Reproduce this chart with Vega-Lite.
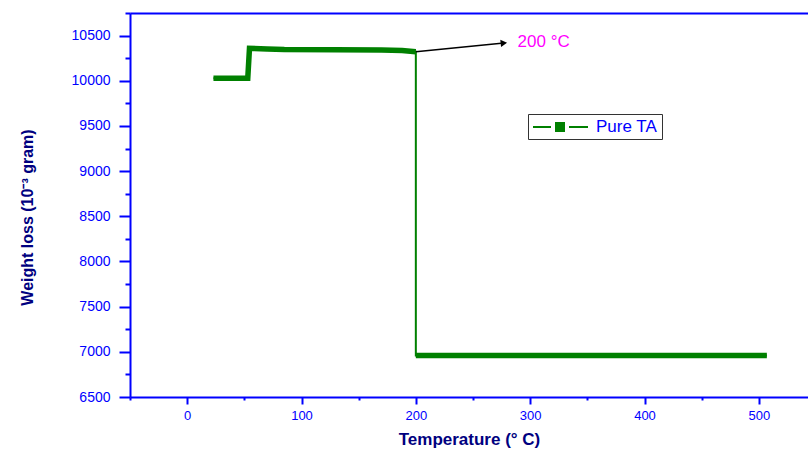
{
  "$schema": "https://vega.github.io/schema/vega-lite/v6.json",
  "width": 678,
  "height": 384,
  "autosize": "none",
  "padding": {"left": 130, "top": 13, "right": 0, "bottom": 56},
  "background": "white",
  "config": {
    "view": {"stroke": null},
    "font": "Liberation Sans",
    "axis": {
      "grid": false,
      "domainColor": "#0000ff",
      "domainWidth": 2,
      "tickColor": "#0000ff",
      "tickWidth": 2,
      "labelColor": "#0000ff",
      "labelFont": "Liberation Sans",
      "titleFont": "Liberation Sans"
    }
  },
  "datasets": {
    "tga": [
      {"i": 1, "T": 23, "W": 10027, "phase": "before", "series": "Pure TA"},
      {"i": 2, "T": 53, "W": 10027, "phase": "before", "series": "Pure TA"},
      {"i": 3, "T": 54.5, "W": 10360, "phase": "before", "series": "Pure TA"},
      {"i": 4, "T": 70, "W": 10352, "phase": "before", "series": "Pure TA"},
      {"i": 5, "T": 85, "W": 10345, "phase": "before", "series": "Pure TA"},
      {"i": 6, "T": 130, "W": 10342, "phase": "before", "series": "Pure TA"},
      {"i": 7, "T": 170, "W": 10340, "phase": "before", "series": "Pure TA"},
      {"i": 8, "T": 188, "W": 10335, "phase": "before", "series": "Pure TA"},
      {"i": 9, "T": 200, "W": 10322, "phase": "before", "series": "Pure TA"},
      {"i": 10, "T": 200, "W": 6960, "phase": "after", "series": "Pure TA"},
      {"i": 11, "T": 300, "W": 6960, "phase": "after", "series": "Pure TA"},
      {"i": 12, "T": 400, "W": 6960, "phase": "after", "series": "Pure TA"},
      {"i": 13, "T": 507, "W": 6960, "phase": "after", "series": "Pure TA"}
    ],
    "note": [
      {"ax1": 200, "ay1": 10322, "ax2": 277, "ay2": 10417, "tx": 289, "ty": 10430, "label": "200 °C"}
    ]
  },
  "layer": [
    {
      "data": {"name": "tga"},
      "mark": {"type": "line", "color": "#008000", "strokeWidth": 2},
      "encoding": {
        "x": {
          "field": "T", "type": "quantitative",
          "scale": {"domain": [-50, 543], "nice": false, "zero": false},
          "axis": {
            "orient": "bottom",
            "values": [0, 100, 200, 300, 400, 500],
            "tickSize": 7,
            "labelPadding": 5,
            "labelFontSize": 13,
            "title": "Temperature (° C)",
            "titleFontSize": 17,
            "titleFontWeight": "bold",
            "titleColor": "#000080",
            "titlePadding": 9
          }
        },
        "y": {
          "field": "W", "type": "quantitative",
          "scale": {"domain": [6500, 10750], "nice": false, "zero": false},
          "axis": {
            "orient": "left",
            "values": [6500, 7000, 7500, 8000, 8500, 9000, 9500, 10000, 10500],
            "format": "d",
            "tickSize": 11,
            "labelPadding": 9,
            "labelFontSize": 14,
            "title": "Weight loss (10⁻³ gram)",
            "titleFontSize": 16,
            "titleFontWeight": "bold",
            "titleColor": "#000080",
            "titleAngle": -90,
            "titleX": -103,
            "titleY": 204,
            "titleAlign": "center",
            "titleBaseline": "middle"
          }
        },
        "order": {"field": "i", "type": "quantitative"}
      }
    },
    {
      "data": {"name": "tga"},
      "mark": {"type": "line", "strokeWidth": 5.5, "strokeJoin": "miter"},
      "encoding": {
        "x": {
          "field": "T", "type": "quantitative",
          "axis": {
            "orient": "bottom",
            "values": [-50, 50, 150, 250, 350, 450],
            "tickSize": 3,
            "labels": false,
            "domain": false,
            "title": null
          }
        },
        "y": {
          "field": "W", "type": "quantitative",
          "axis": {
            "orient": "left",
            "values": [6750, 7250, 7750, 8250, 8750, 9250, 9750, 10250, 10750],
            "tickSize": 5,
            "labels": false,
            "domain": false,
            "title": null
          }
        },
        "detail": {"field": "phase"},
        "order": {"field": "i", "type": "quantitative"},
        "color": {
          "field": "series", "type": "nominal",
          "scale": {"domain": ["Pure TA"], "range": ["#008000"]},
          "legend": {
            "orient": "none",
            "legendX": 398,
            "legendY": 101,
            "title": null,
            "strokeColor": "#333333",
            "padding": 4,
            "labelColor": "#0000ff",
            "labelFont": "Liberation Sans",
            "labelFontSize": 17,
            "labelOffset": 46,
            "symbolType": "M-1,0H1.25M3.5,0H5.875M1.875,-0.5H2.875V0.5H1.875Z",
            "symbolSize": 256,
            "encode": {
              "symbols": {
                "update": {
                  "fill": {"value": "#008000"},
                  "stroke": {"value": "#008000"},
                  "strokeWidth": {"value": 2}
                }
              }
            }
          }
        }
      }
    },
    {
      "data": {"name": "note"},
      "mark": {"type": "rule", "color": "black", "strokeWidth": 1.5},
      "encoding": {
        "x": {
          "field": "ax1", "type": "quantitative",
          "axis": {"orient": "top", "ticks": false, "labels": false, "title": null, "domain": true}
        },
        "y": {"field": "ay1", "type": "quantitative", "axis": null},
        "x2": {"field": "ax2"},
        "y2": {"field": "ay2"}
      }
    },
    {
      "data": {"name": "note"},
      "mark": {"type": "point", "shape": "triangle-right", "filled": true, "color": "black", "size": 55, "angle": -6, "opacity": 1},
      "encoding": {
        "x": {"field": "ax2", "type": "quantitative", "axis": null},
        "y": {"field": "ay2", "type": "quantitative", "axis": null}
      }
    },
    {
      "data": {"name": "note"},
      "mark": {"type": "text", "color": "#ff00ff", "fontSize": 17, "align": "left", "baseline": "middle", "font": "Liberation Sans"},
      "encoding": {
        "x": {"field": "tx", "type": "quantitative", "axis": null},
        "y": {"field": "ty", "type": "quantitative", "axis": null},
        "text": {"field": "label"}
      }
    }
  ],
  "resolve": {"axis": {"x": "independent", "y": "independent"}}
}
